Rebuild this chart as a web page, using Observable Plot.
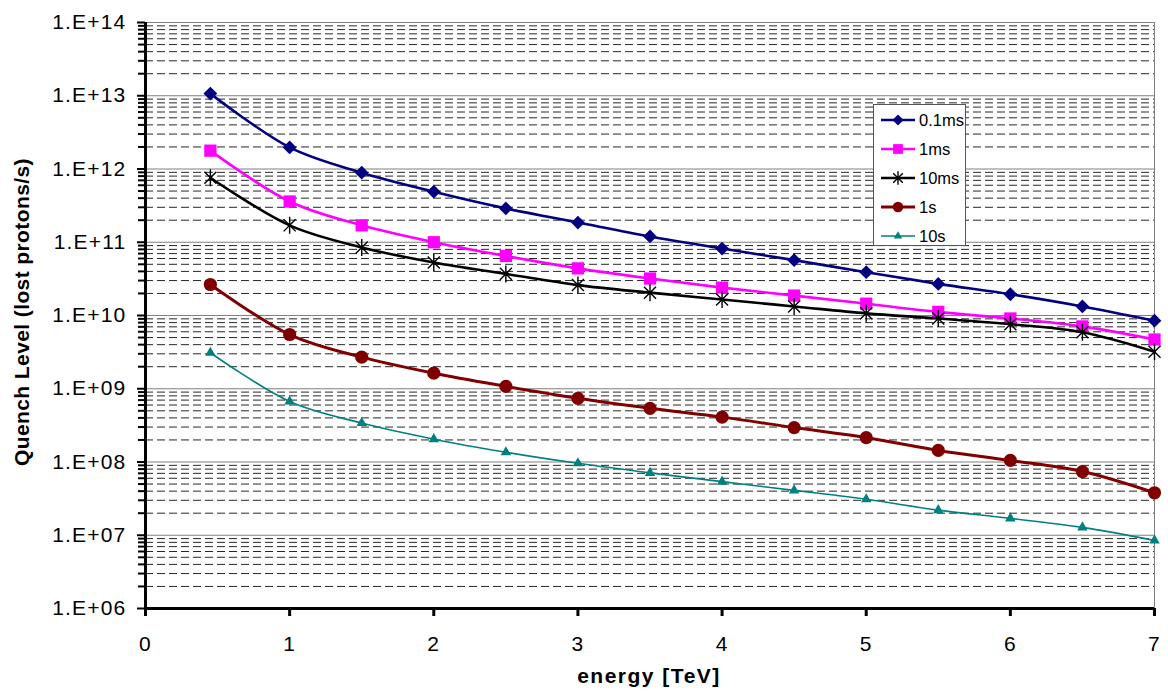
<!DOCTYPE html>
<html>
<head>
<meta charset="utf-8">
<script src="https://cdn.jsdelivr.net/npm/d3@7"></script>
<script src="https://cdn.jsdelivr.net/npm/@observablehq/plot@0.6"></script>
<style>
  html, body { margin: 0; padding: 0; background: #fff; }
  #wrap { position: relative; width: 1168px; height: 691px; overflow: hidden; }
  #chart svg text { letter-spacing: 1.2px; }
  .ytitle { position: absolute; left: 22px; top: 312px; transform: translate(-50%, -50%) rotate(-90deg);
    font: bold 21px "Liberation Sans", Arial, sans-serif; letter-spacing: 0.4px; white-space: nowrap; }
  .xtitle { position: absolute; left: 649px; top: 676px; transform: translate(-50%, -50%);
    font: bold 21px "Liberation Sans", Arial, sans-serif; letter-spacing: 1.5px; white-space: nowrap; }
  #legend { position: absolute; left: 873px; top: 104px; width: 93px; height: 142px; background: #fff;
    border: 1px solid #555; box-sizing: border-box; }
  #legend .row { position: absolute; left: 0; height: 22px; display: flex; align-items: center; }
  #legend .row span { font: 16.5px "Liberation Sans", Arial, sans-serif; }
</style>
</head>
<body>
<div id="wrap">
  <div id="chart"></div>
  <div class="ytitle">Quench Level (lost protons/s)</div>
  <div class="xtitle">energy [TeV]</div>
  <div id="legend"></div>
</div>
<script>
// ---- data ----
const energy = [0.45, 1, 1.5, 2, 2.5, 3, 3.5, 4, 4.5, 5, 5.5, 6, 6.5, 7];
const q01ms = [1.07e13, 1.97e12, 8.9e11, 4.9e11, 2.9e11, 1.86e11, 1.2e11, 8.2e10, 5.7e10, 3.9e10, 2.7e10, 1.95e10, 1.33e10, 8.5e9];
const q1ms  = [1.78e12, 3.6e11, 1.7e11, 1.0e11, 6.5e10, 4.4e10, 3.2e10, 2.4e10, 1.87e10, 1.45e10, 1.12e10, 9.1e9, 7.1e9, 4.7e9];
const q10ms = [7.6e11, 1.7e11, 8.5e10, 5.3e10, 3.7e10, 2.6e10, 2.05e10, 1.65e10, 1.33e10, 1.07e10, 9.1e9, 7.6e9, 5.9e9, 3.2e9];
const q1s   = [2.65e10, 5.5e9, 2.7e9, 1.63e9, 1.08e9, 7.4e8, 5.4e8, 4.1e8, 2.95e8, 2.15e8, 1.44e8, 1.05e8, 7.4e7, 3.8e7];
const q10s  = [3.1e9, 6.7e8, 3.4e8, 2.05e8, 1.36e8, 9.6e7, 7.1e7, 5.4e7, 4.1e7, 3.1e7, 2.2e7, 1.7e7, 1.28e7, 8.5e6];

const seriesNames = ["0.1ms", "1ms", "10ms", "1s", "10s"];
const seriesValues = [q01ms, q1ms, q10ms, q1s, q10s];

const xTicks = [0, 1, 2, 3, 4, 5, 6, 7];
const yMajor = [1e6, 1e7, 1e8, 1e9, 1e10, 1e11, 1e12, 1e13, 1e14];
const yMinor = [];
for (let e = 6; e < 14; e++) for (let m = 2; m <= 9; m++) yMinor.push(m * Math.pow(10, e));

// ---- styles ----
const starSymbol = {
  draw(ctx, size) {
    const r = Math.sqrt(size / Math.PI);
    const d = r * Math.SQRT1_2;
    ctx.moveTo(0, -r); ctx.lineTo(0, r);
    ctx.moveTo(-d, -d); ctx.lineTo(d, d);
    ctx.moveTo(-d, d); ctx.lineTo(d, -d);
  }
};
const styles = [
  {color: "#000080", width: 2.6, symbol: "diamond2", r: 6.2, filled: true},
  {color: "#FF00FF", width: 2.6, symbol: "square2", r: 7.8, filled: true},
  {color: "#000000", width: 2.6, symbol: starSymbol, r: 8.5, filled: false},
  {color: "#800000", width: 3, symbol: "circle", r: 6.6, filled: true},
  {color: "#008080", width: 1.6, symbol: "triangle2", r: 5, filled: true}
];

const fmt = d => "1.E+" + String(Math.round(Math.log10(d))).padStart(2, "0");

const rows = [];
seriesNames.forEach((name, i) => {
  seriesValues[i].forEach((v, j) => rows.push({series: name, energy: energy[j], value: v}));
});

const marks = [
  Plot.ruleY(yMinor, {stroke: "#000", strokeWidth: 1, strokeDasharray: "8,4", strokeOpacity: 0.85}),
  Plot.ruleY(yMajor, {stroke: "#808080", strokeWidth: 1.2}),
  Plot.frame({stroke: "#808080"}),
  Plot.axisY({ticks: yMinor, tickSize: 7, tickFormat: () => "", strokeWidth: 2, label: null}),
  Plot.axisY({ticks: yMajor, tickSize: 8, tickPadding: 11, tickFormat: fmt, strokeWidth: 2, label: null, fontSize: 21}),
  Plot.axisX({ticks: xTicks, tickSize: 8, tickPadding: 20, strokeWidth: 3, label: null, fontSize: 21, tickFormat: d => String(d)}),
  Plot.ruleX([0], {strokeWidth: 3}),
  Plot.ruleY([1e6], {strokeWidth: 3})
];
seriesNames.forEach((name, i) => {
  const s = styles[i];
  const data = rows.filter(r => r.series === name);
  marks.push(Plot.line(data, {x: "energy", y: "value", stroke: s.color, strokeWidth: s.width, curve: "catmull-rom"}));
  marks.push(Plot.dot(data, {
    x: "energy", y: "value", symbol: () => s.symbol, r: s.r,
    fill: s.filled ? s.color : "none", stroke: s.filled ? "none" : s.color, strokeWidth: s.filled ? 0 : 1.4
  }));
});

const chart = Plot.plot({
  width: 1168, height: 691,
  marginLeft: 145, marginRight: 14, marginTop: 22, marginBottom: 83,
  x: {domain: [0, 7]},
  y: {type: "log", domain: [1e6, 1e14]},
  symbol: {type: "identity"},
  style: {fontFamily: "'Liberation Sans', Arial, sans-serif", fontSize: "21px", color: "#000", background: "#fff", overflow: "visible"},
  marks
});
document.getElementById("chart").appendChild(chart);

// ---- legend ----
const legend = document.getElementById("legend");
const rowTops = [4, 33, 62, 91, 120];
const ns = "http://www.w3.org/2000/svg";
const symMap = {diamond2: d3.symbolDiamond2, square2: d3.symbolSquare2, circle: d3.symbolCircle, triangle2: d3.symbolTriangle2};
seriesNames.forEach((name, i) => {
  const s = styles[i];
  const row = document.createElement("div");
  row.className = "row";
  row.style.top = rowTops[i] + "px";
  const svg = document.createElementNS(ns, "svg");
  svg.setAttribute("width", 45); svg.setAttribute("height", 22);
  const line = document.createElementNS(ns, "line");
  line.setAttribute("x1", 7); line.setAttribute("x2", 41); line.setAttribute("y1", 11); line.setAttribute("y2", 11);
  line.setAttribute("stroke", s.color); line.setAttribute("stroke-width", s.width);
  svg.appendChild(line);
  const symType = typeof s.symbol === "string" ? symMap[s.symbol] : s.symbol;
  const rr = s.r * 0.8;
  const p = document.createElementNS(ns, "path");
  p.setAttribute("d", d3.symbol(symType, Math.PI * rr * rr)());
  p.setAttribute("transform", "translate(24,11)");
  if (s.filled) p.setAttribute("fill", s.color);
  else { p.setAttribute("fill", "none"); p.setAttribute("stroke", s.color); p.setAttribute("stroke-width", 1.4); }
  svg.appendChild(p);
  row.appendChild(svg);
  const label = document.createElement("span");
  label.textContent = name;
  row.appendChild(label);
  legend.appendChild(row);
});
</script>
</body>
</html>
